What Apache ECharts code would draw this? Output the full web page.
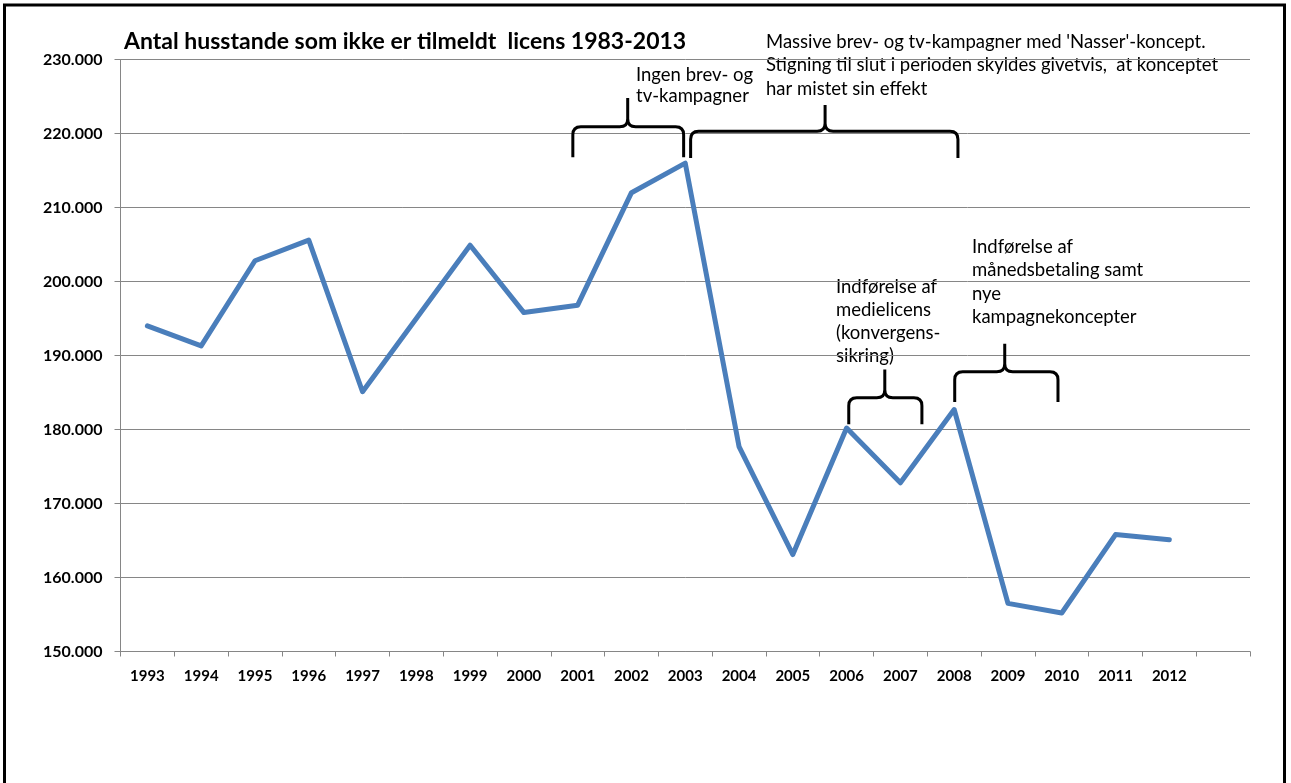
<!DOCTYPE html>
<html>
<head>
<meta charset="utf-8">
<script src="https://cdn.jsdelivr.net/npm/echarts@6/dist/echarts.min.js"></script>
<style>
  html, body { margin: 0; padding: 0; background: #fff; }
  #chart { width: 1291px; height: 783px; }
</style>
</head>
<body>
<div id="chart"></div>
<script>
// år på x-aksen (sidste plads er tom, som i originalen)
const years = ['1993', '1994', '1995', '1996', '1997', '1998', '1999', '2000', '2001', '2002',
  '2003', '2004', '2005', '2006', '2007', '2008', '2009', '2010', '2011', '2012', '']

// antal husstande uden licens
const households = [194000, 191300, 202800, 205600, 185100, 195000, 204900, 195800, 196800, 212000,
  216000, 177700, 163100, 180200, 172800, 182700, 156500, 155200, 165800, 165100]

// y-akse
const yMin = 150000
const yMax = 230000
const yStep = 10000

// klammer: [fra, til, spids, ende (værdi), linje (værdi), spids (værdi)]
const braces = [
  [7.91, 9.97, 8.93, 216800, 220900, 224800],
  [10.10, 15.07, 12.60, 216700, 220300, 223850],
  [13.04, 14.40, 13.71, 180700, 184300, 188100],
  [15.01, 16.93, 15.94, 183700, 187800, 191600]
]

const font = 'Lato, "Open Sans", sans-serif'

const chart = echarts.init(document.getElementById('chart'))

// tegn en vandret krøllet klamme
function renderBrace(params, api) {
  const a = api.coord([api.value(0), api.value(3)])
  const b = api.coord([api.value(1), api.value(3)])
  const base = api.coord([api.value(2), api.value(4)])
  const tip = api.coord([api.value(2), api.value(5)])
  const r = 8
  const x0 = a[0], x1 = b[0], xt = base[0]
  const yEnd = a[1], yb = base[1], yt = tip[1]
  const path = [
    'M', x0, yEnd, 'L', x0, yb + r, 'Q', x0, yb, x0 + r, yb,
    'L', xt - r, yb, 'Q', xt, yb, xt, yb - r, 'L', xt, yt,
    'M', xt, yb - r, 'Q', xt, yb, xt + r, yb,
    'L', x1 - r, yb, 'Q', x1, yb, x1, yb + r, 'L', x1, yEnd
  ].join(' ')
  return {
    type: 'path',
    shape: { pathData: path },
    style: { fill: null, stroke: '#000', lineWidth: 3 }
  }
}

function note(left, top, text, lh) {
  return {
    type: 'text',
    left: left,
    top: top,
    style: {
      text: text,
      font: '18.5px ' + font,
      fill: '#000',
      lineHeight: lh
    }
  }
}

const option = {
  animation: false,
  grid: { left: 120.5, right: 41, top: 59.5, bottom: 131.5 },
  xAxis: [{
    type: 'category',
    data: years,
    boundaryGap: true,
    axisLine: { lineStyle: { color: '#868686', width: 1 } },
    axisTick: { show: true, length: 5, interval: 0, lineStyle: { color: '#868686' } },
    axisLabel: { interval: 0, margin: 17, color: '#000', fontWeight: 'bold', fontSize: 15, fontFamily: font },
    splitLine: { show: false }
  }, {
    type: 'value',
    min: -0.5,
    max: 20.5,
    show: false
  }],
  yAxis: {
    type: 'value',
    min: yMin,
    max: yMax,
    interval: yStep,
    axisLine: { show: true, onZero: false, lineStyle: { color: '#868686', width: 1 } },
    axisTick: { show: true, length: 6, lineStyle: { color: '#868686' } },
    axisLabel: {
      color: '#000', fontWeight: 'bold', fontSize: 16, fontFamily: font, margin: 18,
      formatter: v => (v / 1000) + '.000'
    },
    splitLine: { lineStyle: { color: '#868686', width: 1 } }
  },
  series: [{
    type: 'line',
    data: households,
    symbol: 'none',
    lineStyle: { color: '#4a7ebb', width: 5, join: 'round', cap: 'round' },
    z: 3
  }, {
    type: 'custom',
    xAxisIndex: 1,
    data: braces,
    encode: { x: [0, 1, 2], y: [3, 4, 5] },
    renderItem: renderBrace,
    z: 4
  }],
  graphic: [
    {
      type: 'rect',
      shape: { x: 4.5, y: 5, width: 1280, height: 800 },
      style: { fill: null, stroke: '#000', lineWidth: 3 }
    },
    {
      type: 'text',
      left: 124,
      top: 30,
      style: { text: 'Antal husstande som ikke er tilmeldt  licens 1983-2013', font: 'bold 23px ' + font, fill: '#000' }
    },
    note(636, 65, 'Ingen brev- og\ntv-kampagner', 21),
    note(766, 30, "Massive brev- og tv-kampagner med 'Nasser'-koncept.\nStigning til slut i perioden skyldes givetvis,  at konceptet\nhar mistet sin effekt", 23.5),
    note(836, 276, 'Indførelse af\nmedielicens\n(konvergens-\nsikring)', 23),
    note(972, 235, 'Indførelse af\nmånedsbetaling samt\nnye\nkampagnekoncepter', 23.5)
  ]
}

chart.setOption(option)
</script>
</body>
</html>
